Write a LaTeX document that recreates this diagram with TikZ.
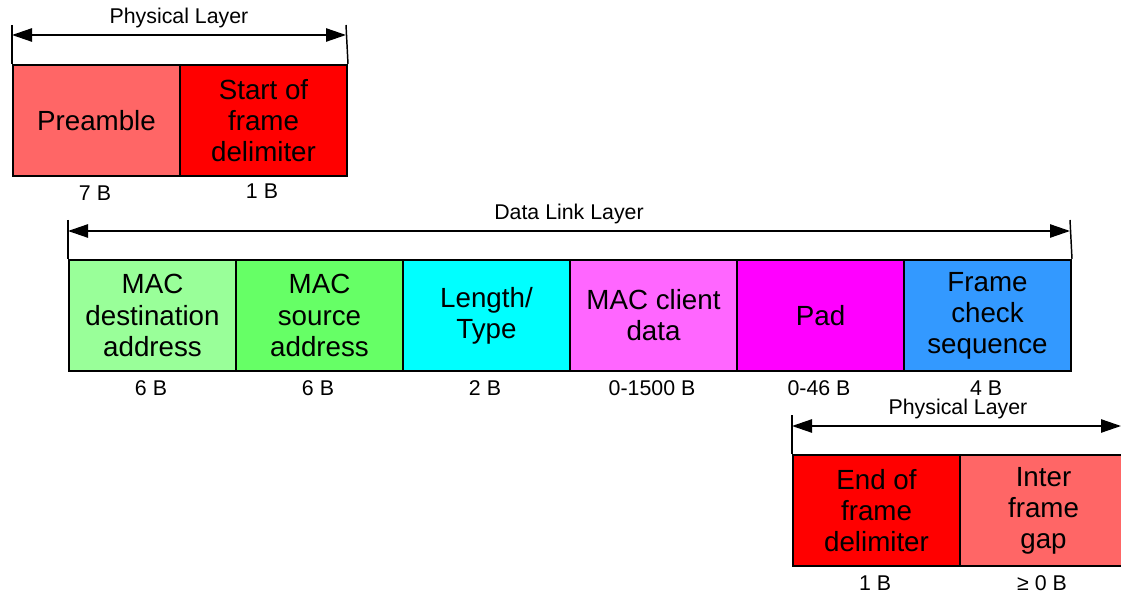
\documentclass[tikz,border=0pt]{standalone}
\usepackage{fontspec}
\setmainfont{Liberation Sans}
\usetikzlibrary{arrows.meta}

\definecolor{preamblered}{HTML}{FF6666}
\definecolor{delimred}{HTML}{FF0000}
\definecolor{dstgreen}{HTML}{99FF99}
\definecolor{srcgreen}{HTML}{66FF66}
\definecolor{lencyan}{HTML}{00FFFF}
\definecolor{datapink}{HTML}{FF66FF}
\definecolor{padmagenta}{HTML}{FF00FF}
\definecolor{fcsblue}{HTML}{3399FF}

\tikzset{
	field/.style={draw, line width=1.5pt, anchor=north west, inner sep=0pt,
		minimum width=125.25pt, minimum height=83.25pt, align=center,
		font=\fontsize{20.8}{23.3}\selectfont},
	size/.style={inner sep=0.5pt, font=\fontsize{16}{18}\selectfont},
	layer/.style={inner sep=0.5pt, font=\fontsize{16}{18}\selectfont},
	span/.style={line width=1.1pt, {Triangle[length=15pt,width=10pt]}-{Triangle[length=15pt,width=10pt]}},
	tick/.style={line width=1.1pt}
}

\begin{document}
\begin{tikzpicture}[x=0.75pt, y=-0.75pt]
	\useasboundingbox (0,0) rectangle (1121,595);

	% physical layer, before the frame
	\node [field, fill=preamblered] (pre) at (12,64) {Preamble};
	\node [field, fill=delimred] (sfd) at (179,64) {Start of\\frame\\delimiter};
	\node [size] (prelen) at (95,193) {7 B};
	\node [size] (sfdlen) at (262,191) {1 B};

	\coordinate (P1) at (12,25);
	\coordinate (P2) at (346,25);
	\coordinate (P1a) at (12,35);
	\coordinate (P2a) at (346,35);
	\draw [tick] (P1) -- (pre.north west);
	\draw [tick] (P2) -- (sfd.north east);
	\draw [span] (P1a) -- (P2a);
	\node [layer] (phy1) at (179,18) {Physical Layer};

	% data link layer
	\node [field, fill=dstgreen] (dst) at (68,259) {MAC\\destination\\address};
	\node [field, fill=srcgreen] (src) at (235,259) {MAC\\source\\address};
	\node [field, fill=lencyan] (len) at (402,259) {Length/\\Type};
	\node [field, fill=datapink] (data) at (569,259) {MAC client\\data};
	\node [field, fill=padmagenta] (pad) at (736,259) {Pad};
	\node [field, fill=fcsblue] (fcs) at (903,259) {Frame\\check\\sequence};

	\node [size] (dstlen) at (151,388) {6 B};
	\node [size] (srclen) at (318,388) {6 B};
	\node [size] (lenlen) at (485,388) {2 B};
	\node [size] (datalen) at (652,388) {0-1500 B};
	\node [size] (padlen) at (819,388) {0-46 B};
	\node [size] (fcslen) at (986,388) {4 B};

	\coordinate (D1) at (68,220);
	\coordinate (D2) at (1070,220);
	\coordinate (D1a) at (68,231);
	\coordinate (D2a) at (1070,231);
	\draw [tick] (D1) -- (dst.north west);
	\draw [tick] (D2) -- (fcs.north east);
	\draw [span] (D1a) -- (D2a);
	\node [layer] (dll) at (569,214) {Data Link Layer};

	% physical layer, after the frame
	\node [field, fill=delimred] (efd) at (792,454) {End of\\frame\\delimiter};
	\node [field, fill=preamblered] (ifg) at (959,454) {Inter\\frame\\gap};
	\node [size] (efdlen) at (875,583) {1 B};
	\node [size] (ifglen) at (1042,583) {≥ 0 B};

	\coordinate (E1) at (792,415);
	\coordinate (E1a) at (792,426);
	\coordinate (E2a) at (1121,426);
	\draw [tick] (E1) -- (efd.north west);
	\draw [span] (E1a) -- (E2a);
	\node [layer] (phy2) at (958,409) {Physical Layer};
\end{tikzpicture}
\end{document}
